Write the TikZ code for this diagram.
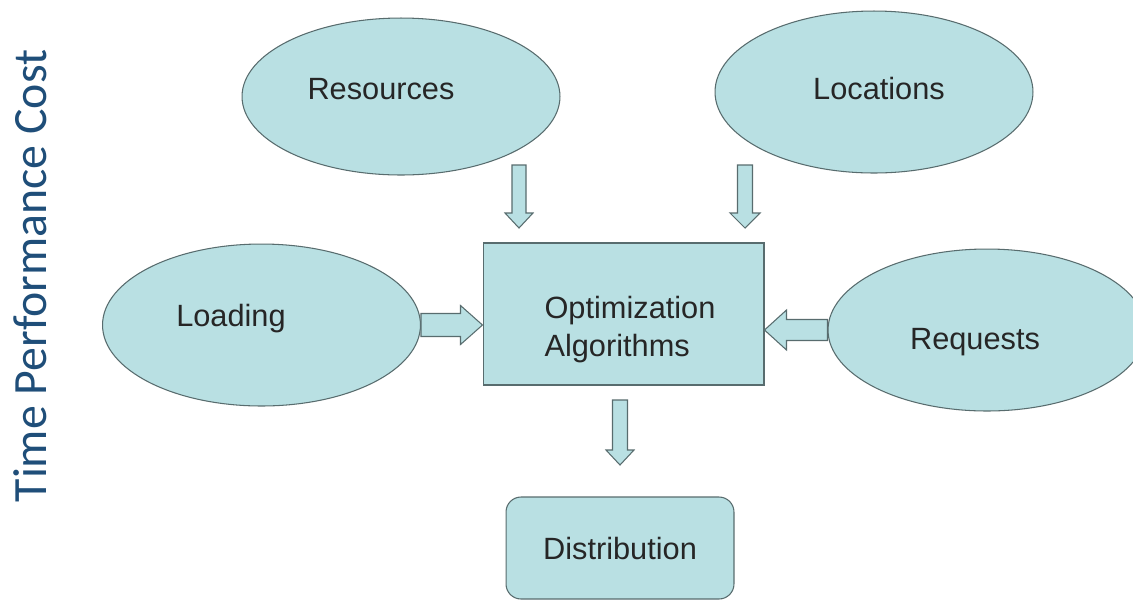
\documentclass[tikz,border=0pt]{standalone}
\usepackage{fontspec}
\setmainfont{Liberation Sans}
\newfontfamily\titlefont{Carlito}
\usetikzlibrary{shapes.geometric,calc}

\definecolor{cellfill}{RGB}{185,224,227}
\definecolor{celledge}{RGB}{88,108,110}
\definecolor{titleblue}{RGB}{31,78,121}

% block arrow: tail, tip, half shaft, half head, head length
\newcommand{\fatarrow}[5]{%
  \coordinate (fa-base) at ($(#2)!#5!(#1)$);
  \draw[fatarrow] ($(#1)!#3!90:(#2)$) -- ($(fa-base)!#3!90:(#2)$)
    -- ($(fa-base)!#4!90:(#2)$) -- (#2) -- ($(fa-base)!#4!-90:(#2)$)
    -- ($(fa-base)!#3!-90:(#2)$) -- ($(#1)!#3!-90:(#2)$) -- cycle;
}

\begin{document}
\begin{tikzpicture}[x=0.02cm,y=-0.02cm,
  oval/.style={ellipse,draw=celledge,fill=cellfill,line width=0.6pt,minimum width=6.36cm,minimum height=3.24cm},
  block/.style={rectangle,draw=celledge,fill=cellfill,line width=0.6pt},
  fatarrow/.style={draw=celledge,fill=cellfill,line width=0.6pt,line join=miter},
  every label/.style={text=black!85,font=\fontsize{17.5}{21.6}\selectfont}]
\useasboundingbox[fill=white] (0,0) rectangle (1133,600);

\node[rotate=90,text=titleblue,font=\titlefont\fontsize{27.2}{30}\selectfont] (title) at (30,276) {Time Performance Cost};

\node[oval,minimum height=3.14cm,label={[xshift=-0.4cm,yshift=0.15cm]center:Resources}] (res) at (401,96.5) {};
\node[oval,label={[xshift=0.1cm,yshift=0.06cm]center:Locations}] (loc) at (874,92) {};
\node[oval,label={[xshift=-0.61cm,yshift=0.12cm]center:Loading}] (load) at (261.5,325) {};
\node[oval,label={[xshift=-0.24cm,yshift=-0.24cm]center:Requests}] (req) at (987,330) {};

\node[block,minimum width=5.62cm,minimum height=2.84cm,
  label={[align=left,xshift=0.13cm,yshift=-0.32cm]center:Optimization\\Algorithms}] (opt) at (623.5,314) {};
\node[block,rounded corners=0.3cm,minimum width=4.56cm,minimum height=2.04cm,
  text=black!85,font=\fontsize{17.5}{21.6}\selectfont] (dist) at (620,548) {Distribution};

\coordinate (restail) at (519,165);
\coordinate (restip) at (519,228);
\coordinate (loctail) at (745,165);
\coordinate (loctip) at (745,228);
\coordinate (loadtip) at (opt.west |- load.east);
\coordinate (reqtip) at (opt.east |- req.west);
\coordinate (opttail) at (620,400);
\coordinate (disttip) at (620,465);

\fatarrow{restail}{restip}{0.14cm}{0.28cm}{0.3cm}
\fatarrow{loctail}{loctip}{0.15cm}{0.3cm}{0.3cm}
\fatarrow{load.east}{loadtip}{0.23cm}{0.39cm}{0.44cm}
\fatarrow{req.west}{reqtip}{0.21cm}{0.4cm}{0.44cm}
\fatarrow{opttail}{disttip}{0.15cm}{0.28cm}{0.3cm}
\end{tikzpicture}
\end{document}
